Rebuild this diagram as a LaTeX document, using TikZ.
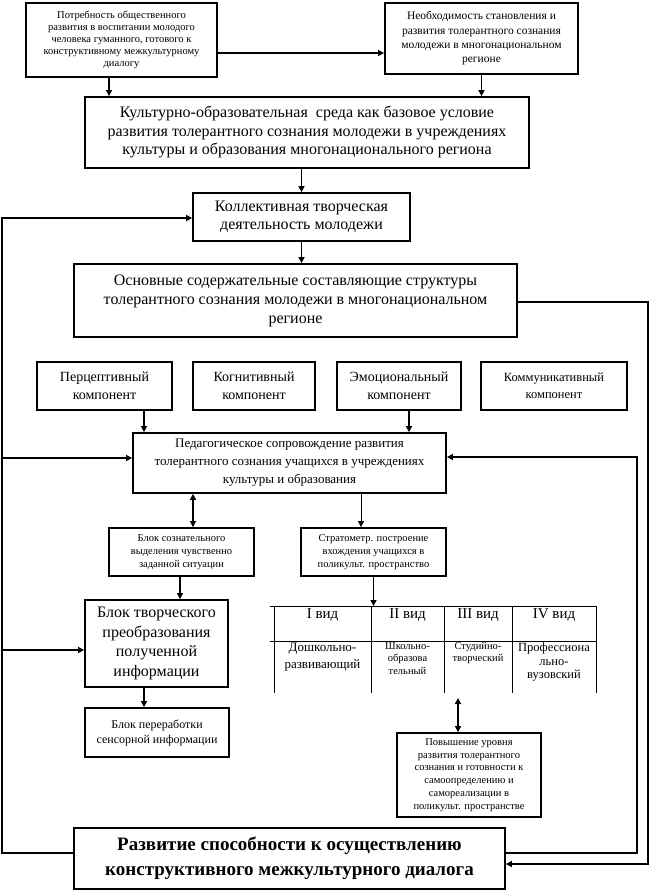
\documentclass[tikz,border=0pt]{standalone}
\usepackage{fontspec}
\setmainfont{Liberation Serif}
\usetikzlibrary{arrows.meta,calc}
\begin{document}
\begin{tikzpicture}[x=1pt,y=-1pt,
  box/.style={draw, line width=1.8pt, align=center, inner sep=0pt},
  arr/.style={line width=1.6pt, -{Triangle[length=6pt,width=6pt]}},
  thinarr/.style={line width=1pt, -{Triangle[length=6pt,width=6pt]}},
  darr/.style={line width=1.6pt, {Triangle[length=6pt,width=6pt]}-{Triangle[length=6pt,width=6pt]}},
  tl/.style={line width=0.8pt},
  cell/.style={anchor=north, align=center, inner sep=0pt}]
\useasboundingbox (0,0) rectangle (650,893);

% boxes
\node[box, minimum width=191pt, minimum height=74pt, font={\fontsize{10.5}{12}\selectfont}] (A) at (121.5,40)
 {Потребность общественного\\развития в воспитании молодого\\человека гуманного, готового к\\конструктивному межкультурному\\диалогу};
\node[box, minimum width=193pt, minimum height=71pt, font={\fontsize{11.5}{14.3}\selectfont}] (B) at (481.5,38.5)
 {Необходимость становления и\\развития толерантного сознания\\молодежи в многонациональном\\регионе};
\node[box, minimum width=444pt, minimum height=71pt, font={\fontsize{16}{18.5}\selectfont}] (M) at (307,132.5)
 {Культурно-образовательная\ \ среда как базовое условие\\развития толерантного сознания молодежи в учреждениях\\культуры и образования многонационального региона};
\node[box, minimum width=217pt, minimum height=48pt, font={\fontsize{16}{18.5}\selectfont}] (Kol) at (301.5,217)
 {Коллективная творческая\\деятельность молодежи};
\node[box, minimum width=443pt, minimum height=73pt, font={\fontsize{16}{19}\selectfont}] (Osn) at (295.5,300.5)
 {Основные содержательные составляющие структуры\\толерантного сознания молодежи в многонациональном\\регионе};
\node[box, minimum width=135pt, minimum height=48pt, font={\fontsize{14}{17.5}\selectfont}] (P1) at (104.5,386)
 {Перцептивный\\компонент};
\node[box, minimum width=122pt, minimum height=48pt, font={\fontsize{14}{17.5}\selectfont}] (P2) at (254,386)
 {Когнитивный\\компонент};
\node[box, minimum width=124pt, minimum height=48pt, font={\fontsize{14}{17.5}\selectfont}] (P3) at (399,386)
 {Эмоциональный\\компонент};
\node[box, minimum width=146pt, minimum height=48pt, font={\fontsize{12.5}{17.5}\selectfont}] (P4) at (554,386)
 {Коммуникативный\\компонент};
\node[box, minimum width=313pt, minimum height=60pt, font={\fontsize{13}{18}\selectfont}] (Ped) at (289.5,463)
 {Педагогическое сопровождение развития\\толерантного сознания учащихся в учреждениях\\культуры и образования};
\node[box, minimum width=145pt, minimum height=48pt, font={\fontsize{10.5}{13}\selectfont}] (Soz) at (181.5,552)
 {Блок сознательного\\выделения чувственно\\заданной ситуации};
\node[box, minimum width=145pt, minimum height=48pt, font={\fontsize{10.5}{13}\selectfont}] (Str) at (373.5,552)
 {Стратометр. построение\\вхождения учащихся в\\поликульт. пространство};
\node[box, minimum width=143pt, minimum height=87pt, font={\fontsize{16}{19.5}\selectfont}] (Tvor) at (156.5,643.5)
 {Блок творческого\\преобразования\\полученной\\информации};
\node[box, minimum width=144pt, minimum height=49pt, font={\fontsize{12}{15}\selectfont}] (Per) at (157,732.5)
 {Блок переработки\\сенсорной информации};
\node[box, minimum width=144pt, minimum height=84pt, font={\fontsize{10.5}{12.8}\selectfont}] (Pov) at (469,775)
 {Повышение уровня\\развития толерантного\\сознания и готовности к\\самоопределению и\\самореализации в\\поликульт. пространстве};
\node[box, minimum width=431pt, minimum height=61pt, font={\fontsize{19}{25}\selectfont\bfseries}] (Bot) at (289.5,858.5)
 {Развитие способности к осуществлению\\конструктивного межкультурного диалога};

% table
\coordinate (tabtop) at (272,606);
\coordinate (tabbot) at (272,693);
\draw[tl] (270,606) -- (596,606);
\draw[tl] (270,641) -- (596,641);
\foreach \x in {274,371,444,512,596} \draw[tl] (\x,606) -- (\x,693);
\node[cell, font={\fontsize{15}{17}\selectfont}] (t1) at (322.5,608) {I вид};
\node[cell, font={\fontsize{15}{17}\selectfont}] (t2) at (407.5,608) {II вид};
\node[cell, font={\fontsize{15}{17}\selectfont}] (t3) at (478,608) {III вид};
\node[cell, font={\fontsize{15}{17}\selectfont}] (t4) at (554,608) {IV вид};
\node[cell, font={\fontsize{13}{17}\selectfont}] (d1) at (322.5,643) {Дошкольно-\\развивающий};
\node[cell, font={\fontsize{10.5}{12.5}\selectfont}] (d2) at (407.5,642) {Школьно-\\образова\\тельный};
\node[cell, font={\fontsize{10.5}{12.5}\selectfont}] (d3) at (478,642) {Студийно-\\творческий};
\node[cell, font={\fontsize{12.5}{13.5}\selectfont}] (d4) at (554,643) {Профессиона\\льно-\\вузовский};

% connectors
\coordinate (ab) at (0,53);
\draw[arr] (A.east |- ab) -- (B.west |- ab);
\coordinate (xa) at (109,0);
\draw[arr] (xa |- A.south) -- (xa |- M.north);
\draw[arr] (B.south) -- (B.south |- M.north);
\draw[arr] (Kol.north |- M.south) -- (Kol.north);
\draw[arr] (Kol.south) -- (Kol.south |- Osn.north);

\coordinate (r1) at (648,302);
\coordinate (r1b) at (648,864);
\draw[arr] (Osn.east |- r1) -- (r1) -- (r1b) -- (Bot.east |- r1b);
\coordinate (r2) at (637,853);
\coordinate (r2t) at (637,457);
\draw[arr] (Bot.east |- r2) -- (r2) -- (r2t) -- (Ped.east |- r2t);

\coordinate (l1) at (2,853);
\coordinate (l1t) at (2,218);
\draw[arr] (Bot.west |- l1) -- (l1) -- (l1t) -- (Kol.west |- l1t);
\coordinate (lp) at (2,458);
\draw[arr] (lp) -- (Ped.west |- lp);
\coordinate (lt) at (2,650);
\draw[arr] (lt) -- (Tvor.west |- lt);

\coordinate (x144) at (144,0);
\draw[arr] (x144 |- P1.south) -- (x144 |- Ped.north);
\coordinate (x409) at (409,0);
\draw[arr] (x409 |- P3.south) -- (x409 |- Ped.north);
\coordinate (x193) at (193,0);
\draw[darr] (x193 |- Ped.south) -- (x193 |- Soz.north);
\coordinate (x361) at (361,0);
\draw[thinarr] (x361 |- Ped.south) -- (x361 |- Str.north);
\coordinate (x180) at (180,0);
\draw[arr] (x180 |- Soz.south) -- (x180 |- Tvor.north);
\draw[arr] (Str.south) -- (Str.south |- tabtop);
\draw[arr] (x144 |- Tvor.south) -- (x144 |- Per.north);
\coordinate (x458) at (458,698);
\draw[darr] (x458) -- (x458 |- Pov.north);
\end{tikzpicture}
\end{document}
